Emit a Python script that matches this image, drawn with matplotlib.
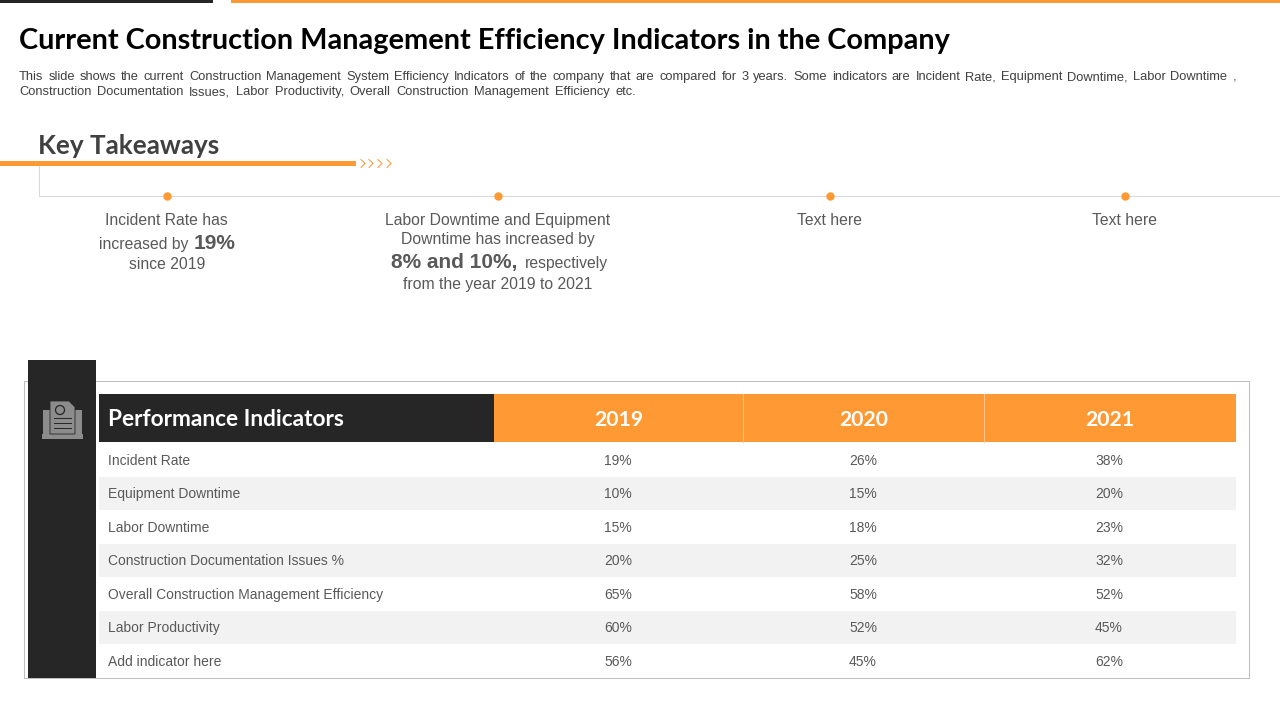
import matplotlib
matplotlib.use("Agg")
from matplotlib import pyplot as plt
from matplotlib.patches import Rectangle, Polygon, Circle

ORANGE = "#ff9933"
DARK = "#262626"
GREY = "#595959"

indicators = ["Incident Rate", "Equipment Downtime", "Labor Downtime",
              "Construction Documentation Issues %",
              "Overall Construction Management Efficiency",
              "Labor Productivity", "Add indicator here"]
years = ["2019", "2020", "2021"]
vals_2019 = ["19%", "10%", "15%", "20%", "65%", "60%", "56%"]
vals_2020 = ["26%", "15%", "18%", "25%", "58%", "52%", "45%"]
vals_2021 = ["38%", "20%", "23%", "32%", "52%", "45%", "62%"]

title = "Current Construction Management Efficiency Indicators in the Company"
desc1 = ("This slide shows the current Construction Management System Efficiency Indicators of the "
         "company that are compared for 3 years. Some indicators are Incident Rate, Equipment Downtime, Labor Downtime ,")
desc2 = ("Construction Documentation Issues, Labor Productivity, Overall Construction "
         "Management Efficiency etc.")

col_edges = [99, 494, 743, 984, 1236]
row_top = 443
row_h = 33.5

fig = plt.figure(figsize=(12.8, 7.2), dpi=100)
ax = fig.add_axes([0, 0, 1, 1])
ax.set_xlim(0, 1280)
ax.set_ylim(720, 0)
ax.axis("off")


def rect(x0, y0, x1, y1, color, **kw):
    ax.add_patch(Rectangle((x0, y0), x1 - x0, y1 - y0, facecolor=color, edgecolor="none", **kw))


def body(x, y, s, size=11.3, color=GREY, ha="center", **kw):
    # y is the text baseline, so lines with and without descenders sit level
    return ax.text(x, y, s, fontsize=size, color=color, ha=ha, va="baseline", family="Liberation Sans", **kw)


def justified(x0, x1, y, s, size):
    # spread the words out so the line runs from x0 to x1, like the slide's justified text
    renderer = fig.canvas.get_renderer()
    words = s.split()
    items = [body(x0, y, w, size=size, color="#404040", ha="left") for w in words]
    widths = [t.get_window_extent(renderer).width for t in items]
    gap = (x1 - x0 - sum(widths)) / (len(words) - 1)
    x = x0
    for t, w in zip(items, widths):
        t.set_x(x)
        x += w + gap


# top bars
rect(0, 0, 213, 3, DARK)
rect(231, 0, 1280, 3, ORANGE)

# heading
ax.text(19, 40.5, title, fontsize=20.8, fontweight="bold", color="black", va="center", family="Lato")
justified(19, 1236, 80.3, desc1, 9.3)
justified(19, 636, 95.3, desc2, 9.3)

# key takeaways
ax.text(38, 145.5, "Key Takeaways", fontsize=18.8, fontweight="bold", color="#404040", va="center", family="Lato")
ax.plot([39, 39, 1280], [165, 196, 196], color="#d9d9d9", lw=0.75, zorder=1)
rect(0, 161, 356, 166, ORANGE, zorder=2)
for x in [361, 369, 378, 387]:
    ax.plot([x, x + 4, x], [159.5, 163.5, 167.5], color=ORANGE, lw=0.75)

for x in [167, 498, 830, 1125]:
    ax.add_patch(Circle((x + 0.5, 196.5), 3.5, color=ORANGE, zorder=3))

body(166, 225, "Incident Rate has")
body(143.5, 249, "increased by")
body(214.5, 249, "19%", size=15, fontweight="bold")
body(167, 269, "since 2019")

body(498, 225, "Labor Downtime and Equipment")
body(498, 244, "Downtime has increased by")
body(454, 268, "8% and 10%,", size=15, fontweight="bold")
body(566, 268, "respectively")
body(498, 289, "from the year 2019 to 2021")

body(829.5, 225, "Text here")
body(1124, 225, "Text here")

# table frame and side band
ax.add_patch(Rectangle((24, 381), 1225, 296.5, facecolor="white", edgecolor="#bfbfbf", lw=0.75, zorder=1))
rect(28, 360, 96, 678, DARK, zorder=2)

# icon
ICON = "#8c8c8c"
rect(43, 410, 50, 434, ICON, zorder=3)
rect(75, 410, 82, 434, ICON, zorder=3)
rect(42, 434, 83, 439, ICON, zorder=3)
ax.add_patch(Polygon([(50, 401), (69, 401), (75, 407), (75, 434), (50, 434)], facecolor=ICON, edgecolor=DARK, lw=0.6, zorder=3))
ax.add_patch(Circle((60, 410), 4.5, facecolor=ICON, edgecolor=DARK, lw=0.9, zorder=4))
for y in [418, 423, 428]:
    ax.plot([54, 71], [y, y], color=DARK, lw=0.7, zorder=4)

# table header
rect(col_edges[0], 394, col_edges[1], 442, DARK, zorder=2)
rect(col_edges[1], 394, col_edges[4], 442, ORANGE, zorder=2)
for x in col_edges[2:4]:
    ax.plot([x, x], [394, 442], color="#fcc48d", lw=0.75, zorder=3)
ax.text(108, 420, "Performance Indicators", fontsize=16.3, fontweight="bold", color="white",
        va="center", family="Lato", zorder=3)
centers = [619, 864, 1110]
for cx, yr in zip(centers, years):
    ax.text(cx, 420, yr, fontsize=15.2, fontweight="bold", color="white", ha="center", va="center",
            family="Lato", zorder=3)

# table rows
for i, name in enumerate(indicators):
    top = row_top + i * row_h
    if i % 2 == 1:
        rect(col_edges[0], top, col_edges[4], top + row_h, "#f2f2f2", zorder=2)
    base = top + row_h / 2 + 5
    body(108, base, name, size=10, ha="left", zorder=3)
    for cx, col in zip([618, 863, 1109], [vals_2019, vals_2020, vals_2021]):
        body(cx, base, col[i], size=10, zorder=3)

fig.savefig("out.png", dpi=100, facecolor="white")
